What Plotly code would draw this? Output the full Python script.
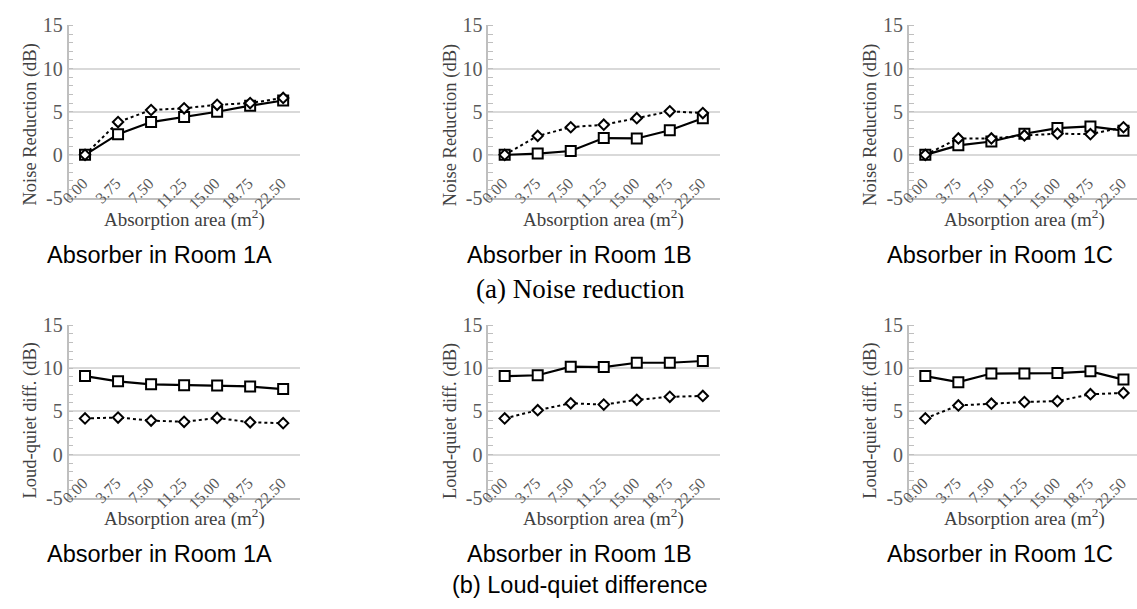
import plotly.graph_objects as go

W, H = 1137, 609

areas = ["0.00", "3.75", "7.50", "11.25", "15.00", "18.75", "22.50"]

# (a) Noise reduction (dB)
nr_1a_solid = [0.0, 2.4, 3.8, 4.4, 5.0, 5.7, 6.3]
nr_1a_dot = [0.0, 3.8, 5.2, 5.4, 5.8, 6.0, 6.6]
nr_1b_solid = [0.0, 0.15, 0.45, 1.95, 1.9, 2.85, 4.25]
nr_1b_dot = [0.0, 2.2, 3.2, 3.5, 4.25, 5.05, 4.85]
nr_1c_solid = [0.0, 1.1, 1.55, 2.45, 3.1, 3.3, 2.8]
nr_1c_dot = [0.0, 1.9, 1.9, 2.25, 2.45, 2.4, 3.2]

# (b) Loud-quiet difference (dB)
lq_1a_solid = [9.1, 8.5, 8.15, 8.05, 8.0, 7.9, 7.6]
lq_1a_dot = [4.2, 4.3, 3.95, 3.8, 4.25, 3.75, 3.65]
lq_1b_solid = [9.1, 9.2, 10.2, 10.15, 10.65, 10.65, 10.85]
lq_1b_dot = [4.2, 5.15, 5.95, 5.8, 6.35, 6.7, 6.8]
lq_1c_solid = [9.1, 8.4, 9.4, 9.4, 9.45, 9.65, 8.7]
lq_1c_dot = [4.2, 5.7, 5.9, 6.1, 6.2, 7.0, 7.15]

y_tickvals = [-5, 0, 5, 10, 15]
y_ticktext = ["-5", "0", "5", "10", "15"]

rooms = ["Absorber in Room 1A", "Absorber in Room 1B", "Absorber in Room 1C"]
row_titles = ["(a) Noise reduction", "(b) Loud-quiet difference"]
y_titles = ["Noise Reduction (dB)", "Loud-quiet diff. (dB)"]
x_title = "Absorption area (m<sup>2</sup>)"

panels = [
    (nr_1a_solid, nr_1a_dot), (nr_1b_solid, nr_1b_dot), (nr_1c_solid, nr_1c_dot),
    (lq_1a_solid, lq_1a_dot), (lq_1b_solid, lq_1b_dot), (lq_1c_solid, lq_1c_dot),
]

# layout geometry (pixels)
col_px = [(60, 293), (483, 717), (907, 1137)]
row_px = [(15, 194), (326, 505)]
unit_px = 233 / 7.0

def px_x(p):
    return p / W

def px_y(p):
    return 1 - p / H

SERIF = "Liberation Serif, Times New Roman, serif"
SANS = "Liberation Sans, Arial, sans-serif"
TICK_COLOR = "#595959"
TITLE_COLOR = "#404040"
GRID = "#d9d9d9"
AXIS = "#bfbfbf"

fig = go.Figure()
layout = dict(
    width=W, height=H,
    margin=dict(l=0, r=0, t=0, b=0),
    paper_bgcolor="white", plot_bgcolor="white",
    showlegend=False,
)
annotations = []

for i, (solid, dot) in enumerate(panels):
    r, c = divmod(i, 3)
    n = "" if i == 0 else str(i + 1)
    xa, ya = "x" + n, "y" + n
    fig.add_trace(go.Scatter(
        x=areas, y=solid, xaxis=xa, yaxis=ya, mode="lines+markers",
        line=dict(color="black", width=2.2),
        marker=dict(symbol="square", size=10, color="white",
                    line=dict(color="black", width=2)),
        cliponaxis=False,
    ))
    fig.add_trace(go.Scatter(
        x=areas, y=dot, xaxis=xa, yaxis=ya, mode="lines+markers",
        line=dict(color="black", width=2, dash="dot"),
        marker=dict(symbol="diamond", size=8, color="white",
                    line=dict(color="black", width=2)),
        cliponaxis=False,
    ))
    x0, x1 = col_px[c]
    y0, y1 = row_px[r]
    xr_end = -0.5 + (x1 - x0) / unit_px
    layout["xaxis" + n] = dict(
        domain=[px_x(x0), px_x(x1)], anchor=ya, type="category",
        range=[-0.5, xr_end], showgrid=False, zeroline=False,
        showline=True, linecolor=AXIS, linewidth=1.5,
        ticks="", tickangle=-45, ticklabelstandoff=-32, ticklabelshift=-2,
        tickfont=dict(family=SERIF, size=16, color=TICK_COLOR),
        fixedrange=True,
    )
    layout["yaxis" + n] = dict(
        domain=[px_y(y1), px_y(y0)], anchor=xa,
        range=[-5, 15], tickvals=y_tickvals, ticktext=y_ticktext,
        showgrid=True, gridcolor=GRID, gridwidth=1.5, zeroline=False,
        showline=True, linecolor=AXIS, linewidth=1.5,
        ticks="",
        minor=dict(dtick=1, tick0=0, ticks="inside", ticklen=5,
                   tickcolor=AXIS, tickwidth=1, showgrid=False),
        tickfont=dict(family=SERIF, size=20, color=TICK_COLOR),
        fixedrange=True,
    )
    # y axis title
    annotations.append(dict(
        text=y_titles[r], xref="paper", yref="paper",
        x=px_x(x0 - 38), y=px_y([118, 425][r]), textangle=-90,
        showarrow=False, xanchor="center", yanchor="middle",
        font=dict(family=SERIF, size=18.5, color=TITLE_COLOR),
    ))
    # x axis title
    annotations.append(dict(
        text=x_title, xref="paper", yref="paper",
        x=px_x((x0 + x0 + 233) / 2), y=px_y([215, 525][r]),
        showarrow=False, xanchor="center", yanchor="middle",
        font=dict(family=SERIF, size=19, color=TITLE_COLOR),
    ))
    # room caption
    annotations.append(dict(
        text=rooms[c], xref="paper", yref="paper",
        x=px_x([152, 575, 999][c]), y=px_y([253, 563][r]),
        showarrow=False, xanchor="center", yanchor="middle",
        font=dict(family=SANS, size=23.5, color="black"),
    ))

annotations.append(dict(
    text=row_titles[0], xref="paper", yref="paper",
    x=px_x(576), y=px_y(288), showarrow=False,
    xanchor="center", yanchor="middle",
    font=dict(family=SERIF, size=27, color="black"),
))
annotations.append(dict(
    text=row_titles[1], xref="paper", yref="paper",
    x=px_x(576), y=px_y(595), showarrow=False,
    xanchor="center", yanchor="middle",
    font=dict(family=SANS, size=23.5, color="black"),
))

layout["annotations"] = annotations
fig.update_layout(**layout)
fig.write_html(
    "out.html",
    config={"displayModeBar": False},
    post_script="document.body.style.margin='0';document.body.style.overflow='hidden';",
)
